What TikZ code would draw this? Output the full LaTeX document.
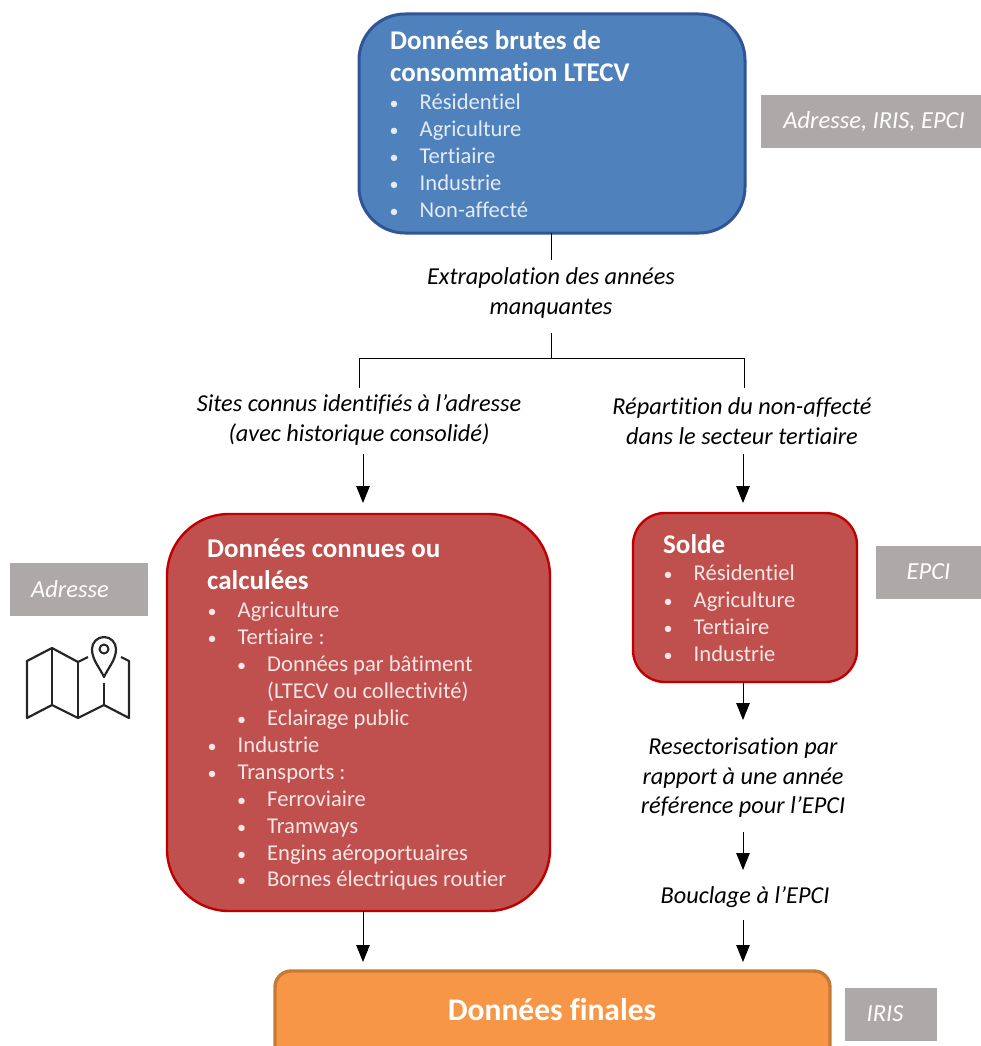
\documentclass[tikz,border=0pt]{standalone}
\usepackage{fontspec}
\setmainfont{Carlito}[Ligatures=NoCommon]
\usetikzlibrary{arrows.meta}
\definecolor{bluefill}{HTML}{4F81BD}
\definecolor{blueline}{HTML}{2F5597}
\definecolor{redfill}{HTML}{C0504D}
\definecolor{redline}{HTML}{C00000}
\definecolor{orfill}{HTML}{F79646}
\definecolor{orline}{HTML}{C77A35}
\definecolor{graybox}{HTML}{ADA9A8}
\definecolor{listcol}{HTML}{E4EBF3}
\definecolor{listred}{HTML}{F6E6E5}
\newcommand{\itm}[1]{\makebox[29.5pt][l]{\hspace*{-0.5pt}\scalebox{0.8}{•}}#1}
\newcommand{\sitm}[1]{\hspace*{29.5pt}\makebox[29.5pt][l]{\hspace*{-0.5pt}\scalebox{0.8}{•}}#1}
\newcommand{\scont}[1]{\hspace*{59pt}#1}
\tikzset{
  x=1pt,y=-1pt,
  boxb/.style={rounded corners=#1,line width=3pt,draw=blueline,fill=bluefill},
  boxr/.style={rounded corners=#1,line width=2.4pt,draw=redline,fill=redfill},
  boxo/.style={rounded corners=#1,line width=3.4pt,draw=orline,fill=orfill},
  tag/.style={fill=graybox,text=white,font=\fontsize{24.5}{28}\selectfont\itshape,inner sep=0pt},
  head/.style={anchor=north west,inner sep=0pt,text=white,align=left,font=\fontsize{27}{32}\selectfont\bfseries},
  lst/.style={anchor=north west,inner sep=0pt,align=left,font=\fontsize{22.6}{26.9}\selectfont},
  lab/.style={align=center,inner sep=0pt,font=\fontsize{24.3}{29.5}\selectfont\itshape},
  conn/.style={line width=1pt,black},
  arr/.style={conn,-{Triangle[length=17pt,width=13.5pt]}},
  icon/.style={line width=2.2pt,draw=black!85,line join=round}
}
\begin{document}
\begin{tikzpicture}
\useasboundingbox (0,0) rectangle (981,1046);
\begin{scope}
\clip (0,0) rectangle (981,1046);
\path[boxo=16pt] (275,971) rectangle (830,1070);
\end{scope}
\path[boxb=46pt] (359,14) rectangle (745,233);
\path[boxr=62pt] (167,514) rectangle (550,911);
\path[boxr=32pt] (633,513) rectangle (857,682);
\coordinate (b1s) at (551,233);
\coordinate (b2s) at (363,911);
\coordinate (b3s) at (743,682);
\coordinate (finL) at (363,962);
\coordinate (finR) at (743,962);
\coordinate (b2n) at (363,503);
\coordinate (b3n) at (743,503);
\coordinate (j) at (551,358);
\coordinate (j0) at (551,333);
\coordinate (b1e) at (551,260);
\coordinate (jl) at (359,358);
\coordinate (jr) at (744,358);
\coordinate (jlb) at (359,388);
\coordinate (jrb) at (744,388);
\coordinate (a2s) at (363,454);
\coordinate (a3s) at (743,454);
\coordinate (a4e) at (743,720);
\coordinate (a5s) at (743,832);
\coordinate (a5e) at (743,870);
\coordinate (a6s) at (743,920);
\node[head] (t1) at (390,30) {Données brutes de\\consommation LTECV};
\node[lst,text=listcol] (l1) at (390,94) {\itm{Résidentiel}\\\itm{Agriculture}\\\itm{Tertiaire}\\\itm{Industrie}\\\itm{Non-affecté}};
\node[head] (t2) at (207,538.5) {Données connues ou\\calculées};
\node[lst,text=listred] (l2) at (208,602) {\itm{Agriculture}\\\itm{Tertiaire :}\\\sitm{Données par bâtiment}\\\scont{(LTECV ou collectivité)}\\\sitm{Eclairage public}\\\itm{Industrie}\\\itm{Transports :}\\\sitm{Ferroviaire}\\\sitm{Tramways}\\\sitm{Engins aéroportuaires}\\\sitm{Bornes électriques routier}};
\node[head] (t3) at (663,534) {Solde};
\node[lst,text=listred] (l3) at (664,565) {\itm{Résidentiel}\\\itm{Agriculture}\\\itm{Tertiaire}\\\itm{Industrie}};
\node[text=white,inner sep=0pt,font=\fontsize{31.5}{36}\selectfont\bfseries] (t4) at (552,1010) {Données finales};
\node[lab] (e1) at (551,293) {Extrapolation des années\\manquantes};
\node[lab] (e2) at (359,420) {Sites connus identifiés à l’adresse\\(avec historique consolidé)};
\node[lab] (e3) at (742,421) {Répartition du non-affecté\\dans le secteur tertiaire};
\node[lab] (e4) at (743,778) {Resectorisation par\\rapport à une année\\référence pour l’EPCI};
\node[lab] (e5) at (745,897) {Bouclage à l’EPCI};
\node[tag,minimum width=220pt,minimum height=53pt] (g1) at (871,121.5) {\hspace*{6pt}Adresse, IRIS, EPCI};
\node[tag,minimum width=105pt,minimum height=53pt] (g2) at (928.5,572) {EPCI};
\node[tag,minimum width=138pt,minimum height=53pt] (g3) at (79,589) {\hspace*{-18pt}Adresse};
\node[tag,minimum width=92pt,minimum height=53pt] (g4) at (891,1014) {\hspace*{-12pt}IRIS};
\draw[conn] (b1s) -- (b1e);
\draw[conn] (j0) -- (j);
\draw[conn] (jlb) -- (jl) -- (jr) -- (jrb);
\draw[arr] (a2s) -- (b2n);
\draw[arr] (a3s) -- (b3n);
\draw[arr] (b3s) -- (a4e);
\draw[arr] (a5s) -- (a5e);
\draw[arr] (a6s) -- (finR);
\draw[arr] (b2s) -- (finL);
% map icon
\draw[icon] (88,657) -- (78,662) -- (52,648) -- (27,661) -- (27,718) -- (52,705) -- (78,718) -- (104,705) -- (129,718) -- (129,661) -- (121,657);
\draw[icon] (52,648) -- (52,705) (78,662) -- (78,718) (104,683) -- (104,705);
\draw[icon] (104,677) .. controls (100,668) and (92,660) .. (92,649) arc[start angle=180,end angle=360,radius=12] .. controls (116,660) and (108,668) .. (104,677) -- cycle;
\draw[icon,line width=2pt] (104,649) circle[radius=4.5];
\end{tikzpicture}
\end{document}
